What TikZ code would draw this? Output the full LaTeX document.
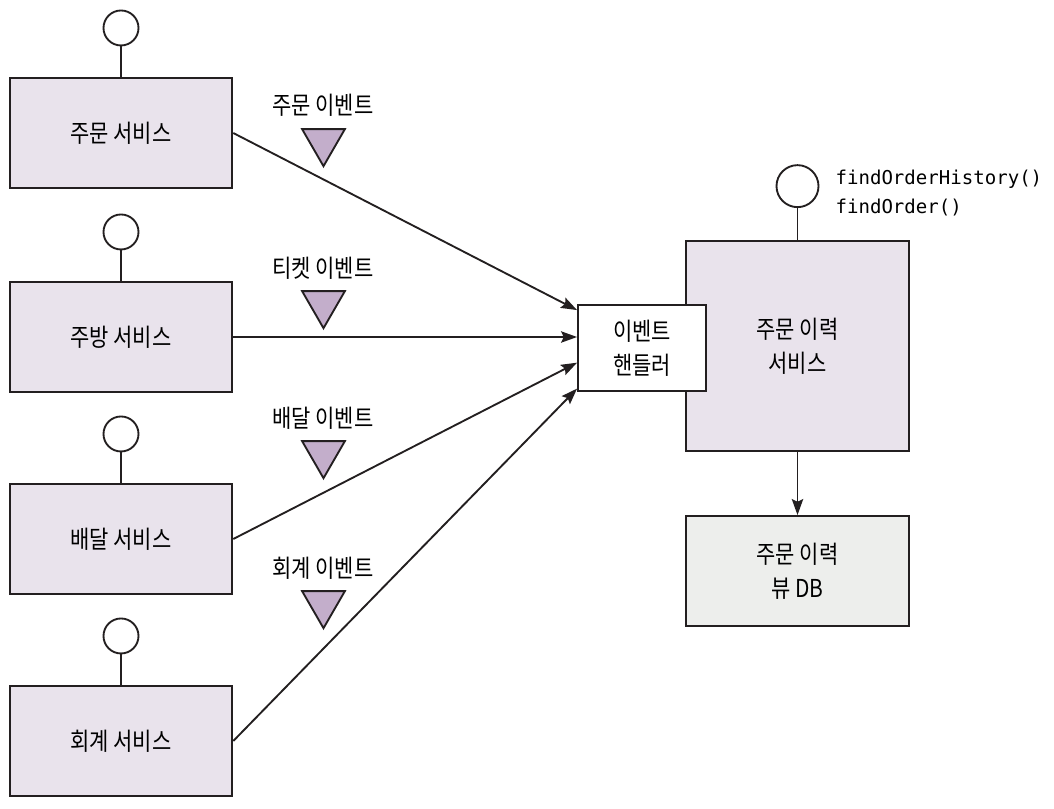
\documentclass[tikz,border=0pt]{standalone}
\usepackage{fontspec}
\setmainfont{Noto Sans CJK KR}[FakeStretch=0.85]
\setmonofont{DejaVu Sans Mono}
\usetikzlibrary{arrows.meta,positioning,shapes.geometric}

\definecolor{ink}{HTML}{231F20}
\definecolor{svcfill}{HTML}{E9E3EC}
\definecolor{dbfill}{HTML}{EDEEEC}
\definecolor{evtfill}{HTML}{C3AECB}

\tikzset{
  box/.style={draw=ink, line width=1.4pt, align=center, inner sep=0pt,
    font=\fontsize{18.5}{25.5}\selectfont},
  svc/.style={box, fill=svcfill, minimum width=167pt, minimum height=82.5pt},
  port/.style={circle, draw=ink, line width=1.4pt, fill=white, inner sep=0pt, minimum size=26.25pt},
  evt/.style={regular polygon, regular polygon sides=3, shape border rotate=180,
    draw=ink, line width=1.4pt, fill=evtfill, inner sep=0pt, minimum size=37pt},
  evtlabel/.style={font=\fontsize{18.5}{20}\selectfont, inner sep=1pt},
  flow/.style={draw=ink, line width=1.4pt, -{Stealth[length=12pt,width=8.5pt,inset=2pt]}},
  stem/.style={draw=ink, line width=1.4pt}
}

\begin{document}
\begin{tikzpicture}[x=0.75pt, y=-0.75pt]

% Background
\fill[white] (0,0) rectangle (1054,808);
\useasboundingbox (0,0) rectangle (1054,808);

% Services on the left
\node[svc] (order) at (121,133) {주문 서비스};
\node[svc] (kitchen) at (121,337) {주방 서비스};
\node[svc] (delivery) at (121,539) {배달 서비스};
\node[svc] (account) at (121,741) {회계 서비스};

% Ports
\node[port, above=23pt of order] (oport) {};
\node[port, above=23pt of kitchen] (kport) {};
\node[port, above=23pt of delivery] (dport) {};
\node[port, above=23pt of account] (aport) {};
\draw[stem] (oport) -- (order);
\draw[stem] (kport) -- (kitchen);
\draw[stem] (dport) -- (delivery);
\draw[stem] (aport) -- (account);

% Events
\node[evtlabel] (olabel) at (323,105) {주문 이벤트};
\node[evt] (oevt) at (323.5,141.5) {};
\node[evtlabel] (klabel) at (323,268) {티켓 이벤트};
\node[evt] (kevt) at (323.5,303.5) {};
\node[evtlabel] (dlabel) at (323,418) {배달 이벤트};
\node[evt] (devt) at (323.5,453.5) {};
\node[evtlabel] (alabel) at (323,568) {회계 이벤트};
\node[evt] (aevt) at (323.5,603.5) {};

% Order history service and handler
\node[svc, minimum height=157.5pt] (hist) at (797.5,346) {주문 이력\\서비스};
\node[box, fill=white, minimum width=96pt, minimum height=64.5pt] (hdl) at (642,348) {이벤트\\핸들러};
\node[port, minimum size=31.5pt, above=24pt of hist] (hport) {};
\draw[stem] (hport) -- (hist);
\node[anchor=west, align=left, inner sep=1pt, font=\ttfamily\fontsize{14.3}{21.75}\selectfont]
  (api) at (834,193) {findOrderHistory()\\findOrder()};

% View database
\node[box, fill=dbfill, minimum width=167pt, minimum height=82.5pt] (viewdb) at (797.5,571) {주문 이력\\뷰 DB};

% Connectors
\draw[flow] (order.east) -- ([yshift=-4.5pt]hdl.north west);
\draw[flow] (kitchen.east) -- (kitchen.east -| hdl.west);
\draw[flow] (delivery.east) -- ([yshift=-11pt]hdl.west);
\draw[flow] (account.east) -- ([yshift=2.5pt]hdl.south west);
\draw[flow] (hist) -- (viewdb);

\end{tikzpicture}
\end{document}
